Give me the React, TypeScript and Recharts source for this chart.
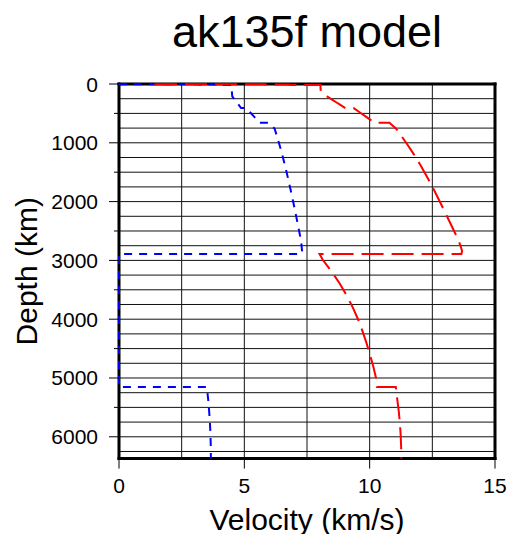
import React from 'react';
import {
  ScatterChart,
  Scatter,
  XAxis,
  YAxis,
  CartesianGrid,
  Label,
} from 'recharts';

// ak135f model nodes (depth in km, velocities in km/s)
const depthKm = [
  0, 3, 3, 3.3, 3.3, 10, 10, 18, 18, 43, 80, 120, 165, 210, 260, 310, 360, 410,
  410, 460, 510, 560, 610, 660, 660, 760, 859, 1007.5, 1205.5, 1403.5, 1601.5,
  1799.5, 1997.5, 2195.5, 2393.5, 2591.5, 2740, 2839.33, 2891.5, 2891.5,
  2989.66, 3190.99, 3392.31, 3593.64, 3794.96, 3996.28, 4197.61, 4398.93,
  4600.26, 4801.58, 5002.91, 5103.57, 5153.5, 5153.5, 5356.75, 5559.6, 5762.45,
  5965.3, 6168.15, 6371,
];
const vp = [
  1.45, 1.45, 1.65, 1.65, 5.8, 5.8, 6.8, 6.8, 8.0355, 8.0379, 8.04, 8.05, 8.175,
  8.3, 8.4825, 8.665, 8.8475, 9.03, 9.36, 9.528, 9.696, 9.864, 10.032, 10.2,
  10.79, 11.0558, 11.2221, 11.4705, 11.7766, 12.0577, 12.3185, 12.5631, 12.7956,
  13.0222, 13.2465, 13.4697, 13.6166, 13.6859, 13.6601, 8.0, 8.1283, 8.4861,
  8.8036, 9.0792, 9.3205, 9.5306, 9.71, 9.8682, 10.0103, 10.1415, 10.2565,
  10.2854, 10.289, 11.0427, 11.0983, 11.159, 11.2037, 11.2364, 11.2557, 11.2622,
];
const vs = [
  0, 0, 1.0, 1.0, 3.2, 3.2, 3.9, 3.9, 4.4839, 4.4856, 4.47, 4.5, 4.509, 4.518,
  4.609, 4.696, 4.783, 4.87, 5.08, 5.186, 5.292, 5.398, 5.504, 5.61, 5.96,
  6.2095, 6.2798, 6.3854, 6.5138, 6.6308, 6.7407, 6.8455, 6.9463, 7.0427,
  7.1367, 7.2284, 7.281, 7.3009, 7.2814, 0, 0, 0, 0, 0, 0, 0, 0, 0, 0, 0, 0, 0,
  0, 3.5043, 3.5551, 3.5957, 3.6273, 3.6495, 3.6622, 3.6656,
];

const velocityTicks = [0, 5, 10, 15];
const depthTicks = [
  0, 500, 1000, 1500, 2000, 2500, 3000, 3500, 4000, 4500, 5000, 5500, 6000,
];
const gridVelocity = [2.5, 5, 7.5, 10, 12.5];
const gridDepth = [
  250, 500, 750, 1000, 1250, 1500, 1750, 2000, 2250, 2500, 2750, 3000, 3250,
  3500, 3750, 4000, 4250, 4500, 4750, 5000, 5250, 5500, 5750, 6000, 6250,
];

const pData = depthKm.map((d, i) => ({ v: vp[i], d }));
const sData = depthKm.map((d, i) => ({ v: vs[i], d }));

const FONT = "'Liberation Sans', Arial, Helvetica, sans-serif";
const frame = { stroke: '#000', strokeWidth: 3, strokeLinecap: 'square' as const };

const NoDot = () => <g />;

const LeftTick = ({ x, y, payload }: any) => {
  const major = payload.value % 1000 === 0;
  return (
    <g>
      <line x1={x - (major ? 10 : 5)} x2={x} y1={y} y2={y} stroke="#000" />
      {major && (
        <text
          x={x - 21}
          y={y}
          dy={7.5}
          textAnchor="end"
          fontSize={21}
          fontFamily={FONT}
          fill="#000"
        >
          {payload.value}
        </text>
      )}
    </g>
  );
};

const RightTick = ({ x, y, payload }: any) => {
  const major = payload.value % 1000 === 0;
  return <line x1={x} x2={x + (major ? 10 : 5)} y1={y} y2={y} stroke="#000" />;
};

const BottomTick = ({ x, y, payload }: any) => (
  <g>
    <line x1={x} x2={x} y1={y} y2={y + 10} stroke="#000" />
    <text
      x={x}
      y={y + 34.5}
      textAnchor="middle"
      fontSize={21}
      fontFamily={FONT}
      fill="#000"
    >
      {payload.value}
    </text>
  </g>
);

const TopTick = ({ x, y }: any) => (
  <line x1={x} x2={x} y1={y - 10} y2={y} stroke="#000" />
);

export default function App() {
  return (
    <div style={{ position: 'absolute', left: 0, top: 0, background: '#fff' }}>
      <ScatterChart
        width={508}
        height={534}
        margin={{ top: 74, right: 3, bottom: 35.4, left: 59 }}
      >
        <CartesianGrid
          horizontalValues={gridDepth}
          verticalValues={gridVelocity}
          stroke="#111"
          strokeWidth={1}
        />
        <XAxis
          type="number"
          dataKey="v"
          domain={[0, 15]}
          ticks={velocityTicks}
          interval={0}
          height={40}
          tickSize={0}
          tickMargin={0}
          tickLine={false}
          axisLine={frame}
          tick={<BottomTick />}
        >
          <Label
            value="Velocity (km/s)"
            position="bottom"
            offset={10}
            fontSize={30}
            fontFamily={FONT}
            fill="#000"
          />
        </XAxis>
        <XAxis
          xAxisId="top"
          orientation="top"
          type="number"
          dataKey="v"
          domain={[0, 15]}
          ticks={velocityTicks}
          interval={0}
          height={10}
          tickSize={0}
          tickMargin={0}
          tickLine={false}
          axisLine={frame}
          tick={<TopTick />}
        >
          <Label
            value="ak135f model"
            position="top"
            offset={27}
            fontSize={45}
            fontFamily={FONT}
            fill="#000"
          />
        </XAxis>
        <YAxis
          type="number"
          dataKey="d"
          domain={[0, 6371]}
          reversed
          ticks={depthTicks}
          interval={0}
          width={60}
          tickSize={0}
          tickMargin={0}
          tickLine={false}
          axisLine={frame}
          tick={<LeftTick />}
        >
          <Label
            value="Depth (km)"
            angle={-90}
            position="left"
            offset={32.5}
            fontSize={30}
            fontFamily={FONT}
            fill="#000"
            style={{ textAnchor: 'middle' }}
          />
        </YAxis>
        <YAxis
          yAxisId="right"
          orientation="right"
          type="number"
          dataKey="d"
          domain={[0, 6371]}
          reversed
          ticks={depthTicks}
          interval={0}
          width={10}
          tickSize={0}
          tickMargin={0}
          tickLine={false}
          axisLine={frame}
          tick={<RightTick />}
        />
        <Scatter
          data={sData}
          fill="#0000ff"
          shape={NoDot}
          line={{ stroke: '#0000ff', strokeWidth: 2, strokeDasharray: '8 7' }}
          isAnimationActive={false}
        />
        <Scatter
          data={pData}
          fill="#ff0000"
          shape={NoDot}
          line={{ stroke: '#ff0000', strokeWidth: 2, strokeDasharray: '22 8' }}
          isAnimationActive={false}
        />
      </ScatterChart>
    </div>
  );
}
